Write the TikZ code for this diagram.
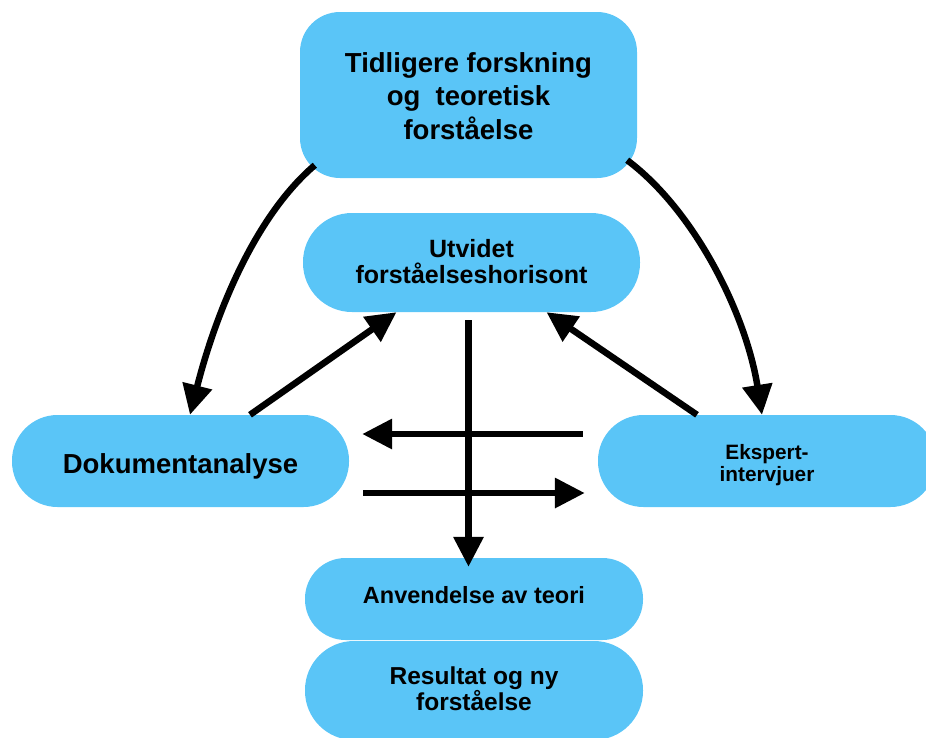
\documentclass[tikz,border=0pt]{standalone}
\usepackage{fontspec}
\setmainfont{Liberation Sans}
\usetikzlibrary{arrows.meta}
\definecolor{boxblue}{RGB}{90,197,247}
\begin{document}
\begin{tikzpicture}[x=1pt,y=-1pt,
  box/.style={fill=boxblue, draw=none, text=black, inner sep=0pt},
  arr/.style={line width=6.5pt, -{Triangle[length=30pt,width=29pt]}}]
\useasboundingbox (0,0) rectangle (926,737);
\node[box, minimum width=337pt, minimum height=166pt, rounded corners=40pt, align=center,
  font=\bfseries\fontsize{27.5}{33.5}\selectfont] (top) at (468.5,95)
  {\rule{0pt}{29pt}Tidligere forskning\\og\ \ teoretisk\\forståelse\rule[-8pt]{0pt}{8pt}};
\node[box, minimum width=337pt, minimum height=99pt, rounded corners=49pt, align=center,
  font=\bfseries\fontsize{25}{26}\selectfont] (utv) at (471.5,262.5)
  {\rule{0pt}{21pt}Utvidet\\forståelseshorisont\rule[-6pt]{0pt}{6pt}};
\node[box, minimum width=337pt, minimum height=92pt, rounded corners=45.5pt,
  font=\bfseries\fontsize{27.5}{30}\selectfont, text height=24pt, text depth=0pt] (dok) at (180.5,461)
  {Dokumentanalyse};
\node[box, minimum width=338pt, minimum height=92pt, rounded corners=45.5pt, align=center,
  font=\bfseries\fontsize{20.8}{22}\selectfont] (eksp) at (767,461)
  {\rule{0pt}{24pt}Ekspert-\\intervjuer\rule[-6pt]{0pt}{6pt}};
\node[box, minimum width=338pt, minimum height=82pt, rounded corners=40.5pt,
  font=\bfseries\fontsize{23.5}{26}\selectfont, text height=17pt, text depth=9pt] (anv) at (474,599)
  {Anvendelse av teori};
\node[box, minimum width=338pt, minimum height=99pt, rounded corners=49pt, align=center,
  font=\bfseries\fontsize{24.5}{26}\selectfont] (res) at (474,690.5)
  {\rule{0pt}{19pt}Resultat og ny\\forståelse\rule[-6pt]{0pt}{6pt}};
\draw[arr] ([shift={(15,-13)}]top.south west) .. controls (254,217) and (215,316) .. ([xshift=9.5pt]dok.north);
\draw[arr] ([shift={(-10,-18)}]top.south east) .. controls (695,211) and (746,314) .. ([xshift=-5pt]eksp.north);
\draw[arr] ([xshift=69.5pt]dok.north) -- ([xshift=-75pt]utv.south);
\draw[arr] ([xshift=-70pt]eksp.north) -- ([xshift=75pt]utv.south);
\draw[arr] ([shift={(-3,8)}]utv.south) -- ([shift={(-5.5,9)}]anv.north);
\draw[arr] ([shift={(-15,-27)}]eksp.west) -- ([shift={(13,-27)}]dok.east);
\draw[arr] ([shift={(14,32)}]dok.east) -- ([shift={(-13,32)}]eksp.west);
\end{tikzpicture}
\end{document}
